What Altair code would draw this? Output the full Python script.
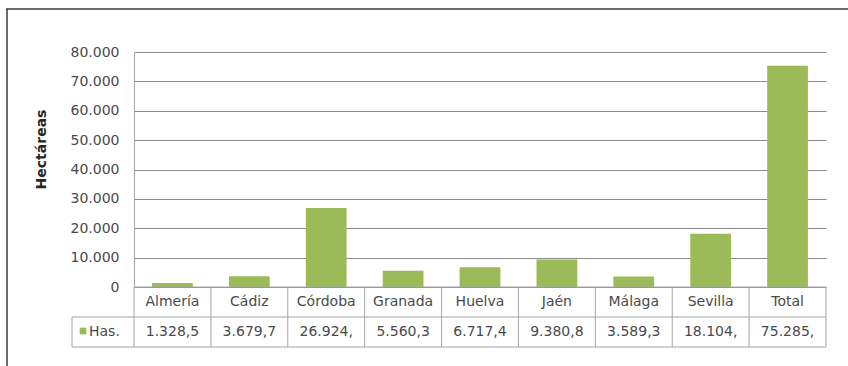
import altair as alt
import pandas as pd

categories = ["Almería", "Cádiz", "Córdoba", "Granada", "Huelva", "Jaén", "Málaga", "Sevilla", "Total"]
values = [1328.5, 3679.7, 26924, 5560.3, 6717.4, 9380.8, 3589.3, 18104, 75285]
table_labels = ["1.328,5", "3.679,7", "26.924,", "5.560,3", "6.717,4", "9.380,8", "3.589,3", "18.104,", "75.285,"]
y_ticks = [0, 10000, 20000, 30000, 40000, 50000, 60000, 70000, 80000]
series_name = "Has."
y_title = "Hectáreas"

df = pd.DataFrame({"cat": categories, "val": values, "lab": table_labels})
one = pd.DataFrame({"a": [0]})

W, H = 692, 235
FONT = "DejaVu Sans"
FS = 14
TXT = "#4a4a4a"
GREEN = "#9BBB59"
LINE = "#a6a6a6"

xenc = alt.X("cat:N", sort=categories, axis=None, scale=alt.Scale(paddingInner=0, paddingOuter=0))

base = alt.Chart(df)

bars = base.mark_bar(color=GREEN, width={"band": 0.53}).encode(
    x=xenc,
    y=alt.Y("val:Q", scale=alt.Scale(domain=[0, 80000], nice=False),
            axis=alt.Axis(values=y_ticks, title=y_title, grid=True, gridColor="#8c8c8c",
                          gridWidth=1.2, domainColor=LINE, ticks=False, labelPadding=15,
                          labelFont=FONT, labelFontSize=FS, labelColor=TXT,
                          labelExpr="replace(format(datum.value, ','), /,/g, '.')",
                          titleFont=FONT, titleFontSize=14, titleFontWeight="bold",
                          titleColor="#262626", titleX=-93, titleY=97, titleAngle=-90,
                          titleAlign="center", titleBaseline="middle")),
)

# table vertical separators
vlines = base.mark_rule(color=LINE, strokeWidth=1).encode(
    x=alt.X("cat:N", sort=categories, axis=None, bandPosition=0,
            scale=alt.Scale(paddingInner=0, paddingOuter=0)),
    y=alt.value(H), y2=alt.value(H + 60),
)
right_line = alt.Chart(one).mark_rule(color=LINE, strokeWidth=1).encode(
    x=alt.value(W), y=alt.value(H), y2=alt.value(H + 60))
h0 = alt.Chart(one).mark_rule(color=LINE, strokeWidth=1).encode(
    x=alt.value(0), x2=alt.value(W), y=alt.value(H))
h1 = alt.Chart(one).mark_rule(color=LINE, strokeWidth=1).encode(
    x=alt.value(-62), x2=alt.value(W), y=alt.value(H + 30))
h2 = alt.Chart(one).mark_rule(color=LINE, strokeWidth=1).encode(
    x=alt.value(-62), x2=alt.value(W), y=alt.value(H + 60))
legend_left = alt.Chart(one).mark_rule(color=LINE, strokeWidth=1).encode(
    x=alt.value(-62), y=alt.value(H + 30), y2=alt.value(H + 60))

cat_text = base.mark_text(font=FONT, fontSize=FS, color=TXT, baseline="middle").encode(
    x=xenc, y=alt.value(H + 15), text="cat:N")
val_text = base.mark_text(font=FONT, fontSize=FS, color=TXT, baseline="middle").encode(
    x=xenc, y=alt.value(H + 45), text="lab:N")

legend_sq = alt.Chart(one).mark_square(color=GREEN, size=45, opacity=1, filled=True).encode(
    x=alt.value(-51), y=alt.value(H + 44))
legend_tx = alt.Chart(pd.DataFrame({"t": [series_name]})).mark_text(
    font=FONT, fontSize=FS, color=TXT, align="left", baseline="middle").encode(
    x=alt.value(-45), y=alt.value(H + 45), text="t:N")

# outer frame (top and left edges)
frame_top = alt.Chart(one).mark_rule(color="#3a3a3a", strokeWidth=1.5).encode(
    x=alt.value(-128), x2=alt.value(W + 40), y=alt.value(-43))
frame_left = alt.Chart(one).mark_rule(color="#3a3a3a", strokeWidth=1.5).encode(
    x=alt.value(-127), y=alt.value(-43), y2=alt.value(H + 100))

chart = alt.layer(
    bars, vlines, right_line, h0, h1, h2, legend_left, cat_text, val_text,
    legend_sq, legend_tx, frame_top, frame_left
).properties(
    width=W, height=H,
    autosize=alt.AutoSizeParams(type="none"),
    padding={"left": 134, "top": 52, "right": 22, "bottom": 79},
    background="white",
).configure_view(stroke=None)

chart.save("out.html", embed_options={"renderer": "svg", "actions": False})
